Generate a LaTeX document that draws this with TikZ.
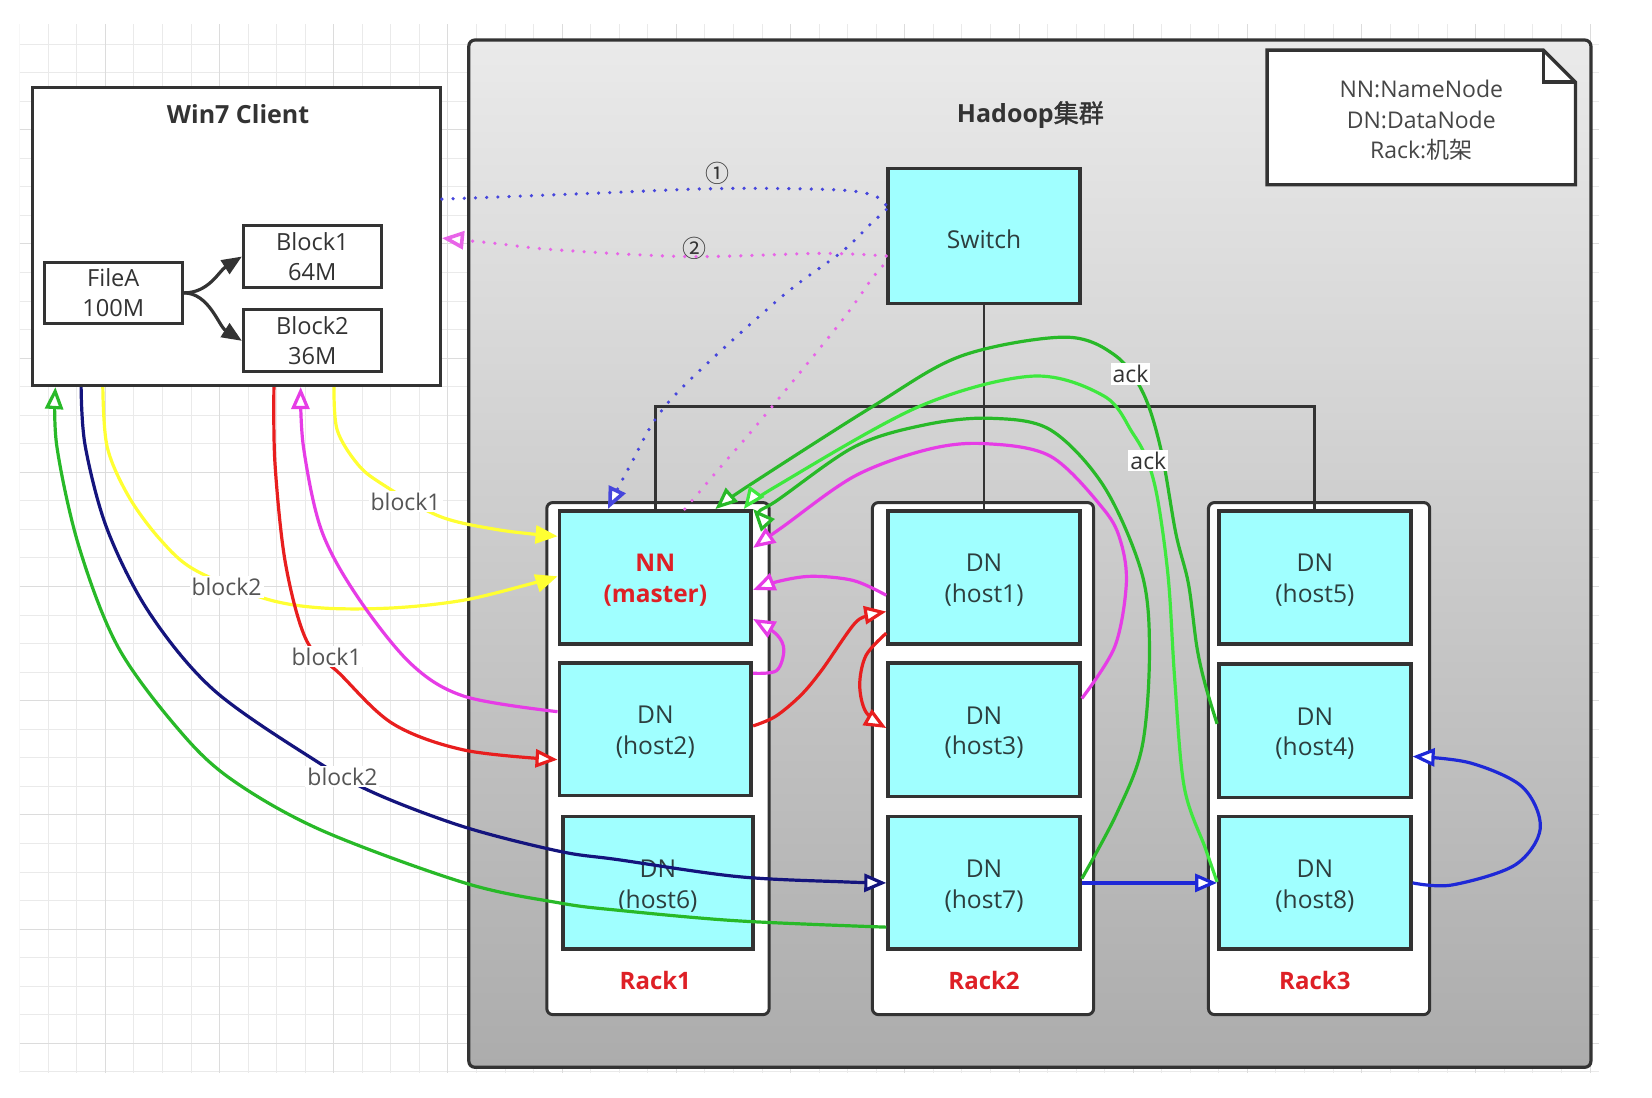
\documentclass[tikz,border=0pt]{standalone}
\usepackage{fontspec}
\setmainfont{Open Sans}
\newfontfamily\cjk{Noto Sans CJK SC}
\newfontfamily\cjkheavy[FakeBold=1.6]{Noto Sans CJK SC}
\usetikzlibrary{arrows.meta,fit}

\newcommand\setfs[2]{\fontsize{#1}{#2}\selectfont}

\definecolor{hostfill}{RGB}{160,255,255}
\definecolor{frame}{RGB}{51,51,51}
\definecolor{txt}{RGB}{51,51,51}
\definecolor{hosttxt}{RGB}{45,62,62}
\definecolor{labeltxt}{RGB}{85,85,85}
\definecolor{notetxt}{RGB}{70,70,70}
\definecolor{rackred}{RGB}{222,32,38}
\definecolor{clustertop}{RGB}{234,234,234}
\definecolor{clusterbot}{RGB}{172,172,172}
\definecolor{ylw}{RGB}{255,255,50}
\definecolor{mag}{RGB}{230,60,230}
\definecolor{redl}{RGB}{232,30,30}
\definecolor{navy}{RGB}{20,20,125}
\definecolor{bluel}{RGB}{30,40,215}
\definecolor{greend}{RGB}{40,185,40}
\definecolor{greenl}{RGB}{62,232,62}
\definecolor{dotblue}{RGB}{70,70,220}
\definecolor{dotpink}{RGB}{232,100,232}
\definecolor{gridminor}{RGB}{234,234,234}
\definecolor{gridmajor}{RGB}{220,220,220}

\tikzset{
  outline/.style={draw=frame, line width=1.5pt},
  wbox/.style={outline, fill=white, inner sep=0pt},
  wtext/.style={align=center, text=txt, inner sep=0pt, font=\setfs{11.8}{14.8}},
  hostbox/.style={draw=frame, line width=1.9pt, fill=hostfill, inner sep=0pt},
  hosttext/.style={align=center, text=hosttxt, inner sep=0pt, yshift=-1.5pt, font=\setfs{12.3}{15.3}},
  rackbox/.style={outline, fill=white, rounded corners=3pt, inner sep=0pt},
  racklabel/.style={text=rackred, font=\bfseries\setfs{12}{14}},
  bus/.style={draw=frame, line width=1.4pt},
  link/.style={line width=1.6pt, line join=round},
  dots/.style={line width=1.8pt, line cap=round, dash pattern=on 0pt off 5.6pt},
  opentip/.style={-{Triangle[length=11pt, width=9pt, fill=white]}},
  solidtip/.style={-{Triangle[length=11pt, width=9pt]}},
  flowlabel/.style={fill=white, inner sep=1pt, text=labeltxt, font=\setfs{11.5}{13}},
  stepmark/.style={text=txt, font=\cjk\setfs{12}{14}},
  curvy/.style={smooth, tension=0.55},
}

\begin{document}
\begin{tikzpicture}[x=0.5268pt, y=-0.5268pt]
\useasboundingbox (0,0) rectangle (1568,1042);
\fill[white] (0,0) rectangle (1568,1042);

% background grid
\begin{scope}
  \clip (18.6,22.8) rectangle (1518,1018.7);
  \foreach \k in {0,...,55}{
    \pgfmathsetmacro\gx{18.7+27.1*\k}
    \draw[line width=0.5pt, draw=gridminor] (\gx,22.8) -- (\gx,1018.7);
  }
  \foreach \j in {1,...,37}{
    \pgfmathsetmacro\gy{14.7+27.1*\j}
    \draw[line width=0.5pt, draw=gridminor] (18.6,\gy) -- (1518,\gy);
  }
  \foreach \k in {3,7,...,55}{
    \pgfmathsetmacro\gx{18.7+27.1*\k}
    \draw[line width=0.5pt, draw=gridmajor] (\gx,22.8) -- (\gx,1018.7);
  }
  \foreach \j in {4,8,...,36}{
    \pgfmathsetmacro\gy{14.7+27.1*\j}
    \draw[line width=0.5pt, draw=gridmajor] (18.6,\gy) -- (1518,\gy);
  }
\end{scope}

% client machine
\node[wbox, fit={(31,83) (418,366)}] (win) {};
\node[font=\bfseries\setfs{12.5}{15}, text=txt] (wintitle) at (226,108) {Win7 Client};
\node[wbox, fit={(42,249) (173,307)}] (filea) {};
\node[wtext] (fileatxt) at (filea.center) {FileA\\100M};
\node[wbox, fit={(231,214) (362,273)}] (blk1) {};
\node[wtext] (blk1txt) at (blk1.center) {Block1\\64M};
\node[wbox, fit={(231,294) (362,353)}] (blk2) {};
\node[wtext] (blk2txt) at (blk2.center) {Block2\\36M};
\draw[line width=1.6pt, draw=frame, -{Triangle[length=10pt,width=8pt]}]
  (filea.east) .. controls +(24,0) and +(-22,14) .. (blk1.west);
\draw[line width=1.6pt, draw=frame, -{Triangle[length=10pt,width=8pt]}]
  (filea.east) .. controls +(24,0) and +(-22,-14) .. (blk2.west);

% cluster
\node[fit={(445,38) (1510,1013)}, inner sep=0pt, draw=frame, line width=1.6pt,
      rounded corners=3pt, top color=clustertop, bottom color=clusterbot] (cluster) {};
\node[font=\bfseries\setfs{12.5}{15}, text=txt] (ctitle) at (978,109) {Hadoop{\mdseries\cjkheavy 集群}};

% legend note with folded corner
\node[fit={(1203,48) (1495,175)}, inner sep=0pt] (note) {};
\filldraw[fill=white, draw=frame, line width=1.7pt]
  (note.north west) -- ([xshift=-16pt]note.north east) -- ([yshift=-16pt]note.north east)
  -- (note.south east) -- (note.south west) -- cycle;
\draw[draw=frame, line width=1.7pt]
  ([xshift=-16pt]note.north east) -- ([xshift=-16pt,yshift=-16pt]note.north east) -- ([yshift=-16pt]note.north east);
\node[align=center, text=notetxt, font=\setfs{11.5}{15.2}] (notetext) at ([yshift=-1.5pt]note.center)
  {NN:NameNode\\DN:DataNode\\Rack:{\cjk 机架}};

% switch
\node[hostbox, fit={(843,160) (1025,288)}] (switch) {};
\node[hosttext] (switchtxt) at (switch.center) {Switch};

% racks
\node[rackbox, fit={(519,477) (730,963)}] (rack1) {};
\node[rackbox, fit={(828,477) (1038,963)}] (rack2) {};
\node[rackbox, fit={(1147,477) (1357,963)}] (rack3) {};

% hosts
\node[hostbox, fit={(531,485) (713,611)}] (nn) {};
\node[hosttext, text=rackred, font=\bfseries\setfs{12.2}{15.3}] (nntxt) at (nn.center) {NN\\(master)};
\node[hostbox, fit={(531,629) (713,755)}] (h2) {};
\node[hosttext] (h2txt) at (h2.center) {DN\\(host2)};
\node[hostbox, fit={(534,775) (715,901)}] (h6) {};
\node[hosttext] (h6txt) at (h6.center) {DN\\(host6)};
\node[hostbox, fit={(843,485) (1025,611)}] (h1) {};
\node[hosttext] (h1txt) at (h1.center) {DN\\(host1)};
\node[hostbox, fit={(843,629) (1025,756)}] (h3) {};
\node[hosttext] (h3txt) at (h3.center) {DN\\(host3)};
\node[hostbox, fit={(843,775) (1025,901)}] (h7) {};
\node[hosttext] (h7txt) at (h7.center) {DN\\(host7)};
\node[hostbox, fit={(1157,485) (1339,611)}] (h5) {};
\node[hosttext] (h5txt) at (h5.center) {DN\\(host5)};
\node[hostbox, fit={(1157,630) (1339,757)}] (h4) {};
\node[hosttext] (h4txt) at (h4.center) {DN\\(host4)};
\node[hostbox, fit={(1157,775) (1339,901)}] (h8) {};
\node[hosttext] (h8txt) at (h8.center) {DN\\(host8)};

\node[racklabel] (r1lab) at (nn.center |- 0,931) {Rack1};
\node[racklabel] (r2lab) at (h1.center |- 0,931) {Rack2};
\node[racklabel] (r3lab) at (h5.center |- 0,931) {Rack3};

% network wiring
\draw[bus] (switch.south) -- (h1.north);
\draw[bus] (nn.north) -- (nn.north |- 0,386) -- (h5.north |- 0,386) -- (h5.north);

% request and reply through the switch
\draw[dots, draw=dotblue] plot[curvy] coordinates {(win.east |- 0,189) (550,184) (680,179) (790,180) (828,185) (switch.west |- 0,195)};
\draw[dots, draw=dotblue, opentip] plot[curvy] coordinates {(switch.west |- 0,199) (826,213) (799,239) (738,285) (636,380) (598,442) (577,0 |- nn.north)};
\draw[dots, draw=dotpink] plot[curvy] coordinates {(650,0 |- nn.north) (685,442) (722,399) (797,307) (828,264) (switch.west |- 0,249)};
\draw[dots, draw=dotpink, opentip] plot[curvy] coordinates {(switch.west |- 0,243) (780,240.5) (653,243.5) (526,237) (470,231) (win.east |- 0,226)};

% block transfers from the client
\draw[link, draw=ylw, solidtip] plot[curvy] coordinates {(317,0 |- win.south) (320,408) (339,440) (362,459) (417,490) (474,503) (nn.west |- 0,509)};
\draw[link, draw=ylw, solidtip] plot[curvy] coordinates {(97.6,0 |- win.south) (101.7,424) (122,471) (152,512) (185,541) (251,568) (305,577) (373,577) (441,569.5) (508,553) (nn.west |- 0,547)};
\draw[link, draw=redl, opentip] plot[curvy] coordinates {(260,0 |- win.south) (261,440) (271,535) (291,608) (322,639) (373,687) (441,712) (h2.west |- 0,721)};
\draw[link, draw=mag, opentip] plot[curvy] coordinates {(h2.west |- 0,675.5) (441,661) (390,630) (339,566) (305,503) (288,424) (285.4,0 |- win.south)};
\draw[link, draw=navy, opentip] plot[curvy] coordinates {(77,0 |- win.south) (81,424) (102,503) (142,582) (203,655) (298,721) (356,753) (441,785) (531,808) (587,816) (700,832) (800,837) (h7.west)};
\draw[link, draw=greend, opentip] plot[curvy] coordinates {(h7.west |- 0,880) (700,874) (587,864) (531,857) (441,838) (305,788) (220,740) (170,693) (112,614) (75,519) (54,424) (52.6,0 |- win.south)};

% pipeline between data nodes
\draw[link, draw=redl, opentip] plot[curvy] coordinates {(h2.east |- 0,689) (736,680) (760,660) (780,636) (811,592) (826,584) (h1.west |- 0,580.5)};
\draw[link, draw=redl, opentip] plot[curvy] coordinates {(h1.west |- 0,601) (822,622) (816,650) (822,676) (h3.west |- 0,691)};
\draw[link, draw=bluel, opentip] (h7.east) -- (h8.west);
\draw[link, draw=bluel, opentip] plot[curvy] coordinates {(h8.east) (1378,840) (1438,821) (1462,786) (1445,747) (1395,724) (h4.east |- 0,718)};

% acknowledgements to the name node
\draw[link, draw=mag, opentip] plot[curvy] coordinates {(h1.west |- 0,565) (810,551) (770,547) (738,552) (nn.east |- 0,560)};
\draw[link, draw=mag, opentip] plot[curvy] coordinates {(h2.east |- 0,639) (737,636.6) (744,617) (737,602) (nn.east |- 0,587.5)};
\draw[link, draw=mag, opentip] plot[curvy] coordinates {(h3.east |- 0,663) (1058,614) (1069,555) (1064,515) (1048,484) (997,433) (933,421) (879,427) (811,452) (743,500) (nn.east |- 0,520)};
\draw[link, draw=greend, opentip] plot[curvy] coordinates {(h4.west |- 0,687) (1144,650) (1136,614) (1128,554) (1116,506) (1102,427) (1085,373) (1058,337) (1010,320) (912,338) (828,386) (709,462) (679,0 |- nn.north)};
\draw[link, draw=greenl, opentip] plot[curvy] coordinates {(h8.west |- 0,837) (1144,805) (1124,747) (1115,645) (1109,550) (1099,475) (1089,437) (1075,411) (1048,376) (980,357) (872,386) (736,462) (706,0 |- nn.north)};
\draw[link, draw=greend, opentip] plot[curvy] coordinates {(h7.east |- 0,834) (1060,772) (1084,709) (1091,620) (1084,545) (1048,462) (997,408) (940,397) (879,403) (811,424) (733,478) (nn.north east)};

% connector labels
\node[flowlabel] (lb1) at (385,476) {block1};
\node[flowlabel] (lb2) at (215,557) {block2};
\node[flowlabel] (lb3) at (310,623) {block1};
\node[flowlabel] (lb4) at (325,737) {block2};
\node[flowlabel, text=txt] (ack1) at (1073,355) {ack};
\node[flowlabel, text=txt] (ack2) at (1090,437) {ack};
\node[stepmark] (step1) at (681,165) {①};
\node[stepmark] (step2) at (659,236) {②};
\end{tikzpicture}
\end{document}
